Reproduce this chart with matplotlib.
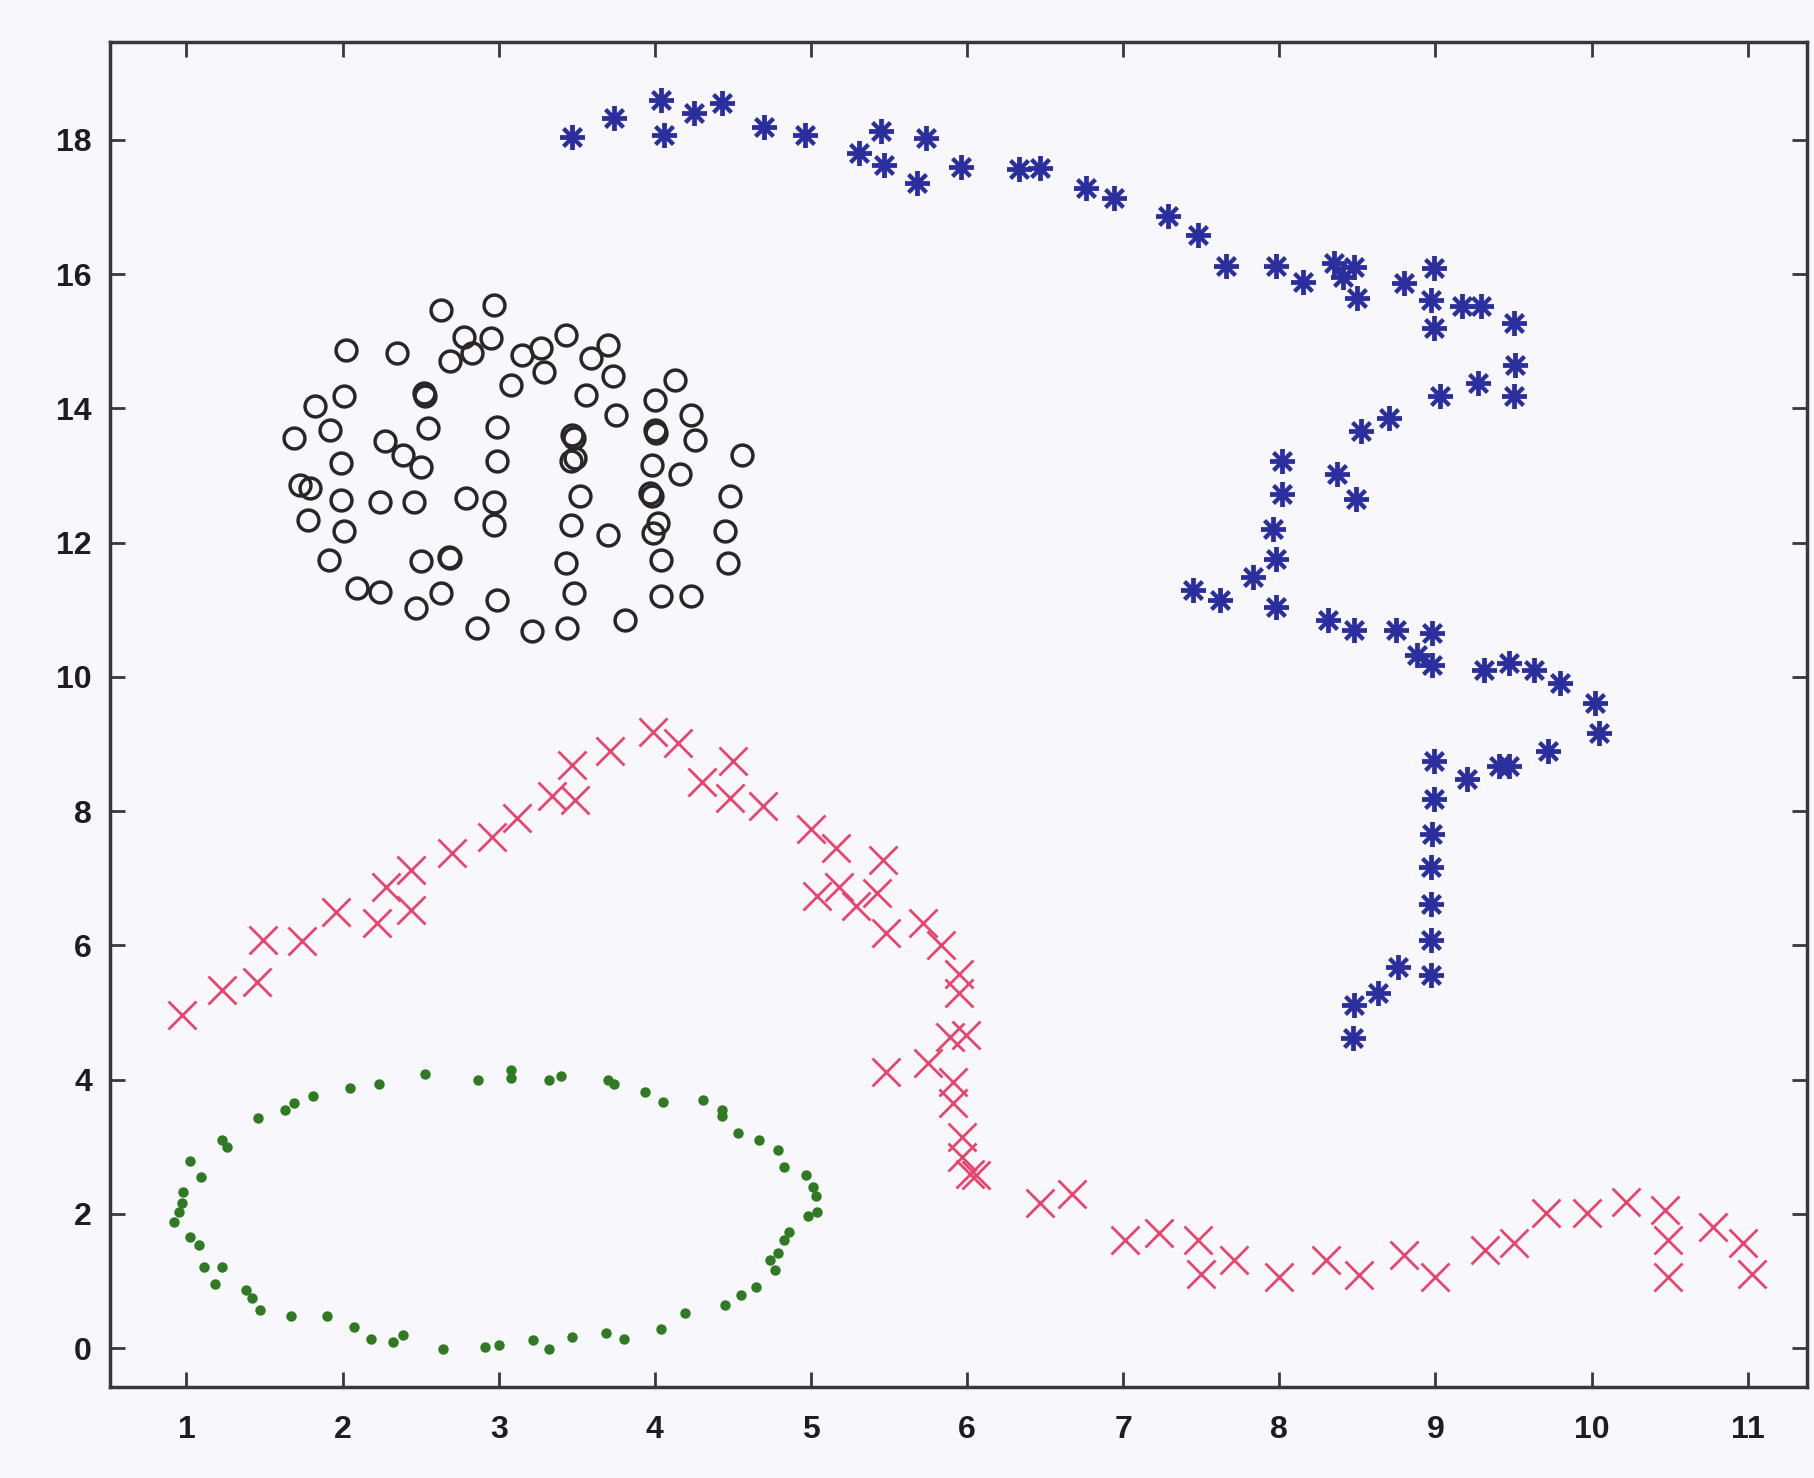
import matplotlib.pyplot as plt

# black circles (upper left blob)
circ_x = [2.63, 2.97, 2.02, 2.35, 2.78, 2.69, 2.83, 2.95, 3.15, 3.27, 3.43, 3.29, 3.08, 3.59,
          3.70, 3.73, 3.56, 4.13, 4.00, 3.75, 4.23, 2.01, 1.82, 2.52, 2.53, 1.92, 1.69, 2.55,
          2.99, 2.27, 2.39, 2.50, 1.99, 2.99, 3.47, 3.48, 3.49, 3.46, 4.00, 4.01, 4.26, 3.98,
          4.16, 4.56, 1.73, 1.79, 1.99, 2.24, 2.46, 2.79, 2.97, 1.78, 2.97, 3.52, 3.98, 3.97,
          4.48, 2.01, 3.46, 3.70, 4.02, 3.99, 4.45, 1.91, 2.50, 2.69, 2.68, 4.04, 3.43, 4.47,
          2.09, 2.24, 2.47, 2.63, 2.99, 3.48, 4.04, 4.23, 2.86, 3.21, 3.44, 3.81]
circ_y = [15.47, 15.54, 14.87, 14.82, 15.07, 14.70, 14.82, 15.05, 14.80, 14.90, 15.10, 14.55, 14.35, 14.75,
          14.95, 14.48, 14.20, 14.43, 14.13, 13.90, 13.90, 14.18, 14.03, 14.23, 14.18, 13.68, 13.56, 13.71,
          13.73, 13.51, 13.31, 13.13, 13.18, 13.21, 13.61, 13.56, 13.26, 13.21, 13.68, 13.63, 13.53, 13.16,
          13.03, 13.31, 12.86, 12.81, 12.64, 12.61, 12.61, 12.66, 12.61, 12.34, 12.27, 12.69, 12.69, 12.74,
          12.69, 12.17, 12.27, 12.12, 12.29, 12.14, 12.17, 11.74, 11.72, 11.77, 11.79, 11.74, 11.69, 11.69,
          11.32, 11.27, 11.02, 11.25, 11.15, 11.25, 11.20, 11.20, 10.73, 10.68, 10.73, 10.85]

# green dots (ring at the bottom left)
dot_x = [1.02, 1.09, 1.23, 1.26, 1.46, 1.63, 1.69, 1.81, 2.05, 2.23, 2.53, 2.87, 3.08, 3.08,
         3.32, 3.40, 3.70, 3.74, 3.94, 4.05, 4.31, 4.43, 4.43, 4.53, 4.67, 4.79, 4.83, 4.97,
         5.01, 5.03, 5.04, 4.98, 4.86, 4.83, 4.79, 4.74, 4.77, 4.65, 4.55, 4.45, 4.19, 4.04,
         3.80, 3.69, 3.47, 3.32, 3.22, 3.00, 2.91, 2.64, 2.39, 2.32, 2.18, 2.07, 1.90, 1.67,
         1.47, 1.42, 1.38, 1.18, 1.11, 1.23, 1.08, 1.02, 0.92, 0.95, 0.97, 0.98]
dot_y = [2.78, 2.55, 3.10, 3.00, 3.42, 3.55, 3.65, 3.75, 3.87, 3.94, 4.09, 3.99, 4.14, 4.02,
         4.00, 4.05, 3.99, 3.94, 3.82, 3.67, 3.70, 3.55, 3.45, 3.20, 3.10, 2.95, 2.70, 2.58,
         2.40, 2.26, 2.03, 1.96, 1.73, 1.61, 1.41, 1.31, 1.16, 0.91, 0.79, 0.64, 0.52, 0.29,
         0.14, 0.22, 0.17, -0.01, 0.12, 0.04, 0.02, -0.01, 0.19, 0.09, 0.14, 0.32, 0.47, 0.47,
         0.57, 0.74, 0.86, 0.96, 1.21, 1.21, 1.53, 1.66, 1.88, 2.03, 2.16, 2.33]

# red crosses (long curve)
cross_x = [0.97, 1.23, 1.45, 1.49, 1.74, 1.96, 2.22, 2.28, 2.44, 2.44, 2.70, 2.96, 3.12, 3.34,
           3.47, 3.49, 3.71, 3.99, 4.15, 4.30, 4.50, 4.48, 4.69, 5.00, 5.16, 5.04, 5.18, 5.29,
           5.46, 5.42, 5.48, 5.72, 5.83, 5.95, 5.95, 5.48, 5.75, 5.89, 5.99, 5.91, 5.91, 5.97,
           5.97, 6.02, 6.06, 6.47, 6.67, 7.01, 7.23, 7.48, 7.50, 7.71, 8.00, 8.30, 8.51, 8.80,
           9.00, 9.32, 9.50, 9.71, 9.97, 10.22, 10.47, 10.49, 10.49, 10.78, 10.97, 11.03]
cross_y = [4.96, 5.34, 5.46, 6.08, 6.06, 6.50, 6.33, 6.87, 7.12, 6.53, 7.37, 7.62, 7.89, 8.22,
           8.69, 8.17, 8.89, 9.18, 9.01, 8.44, 8.74, 8.19, 8.07, 7.74, 7.45, 6.73, 6.87, 6.58,
           7.27, 6.78, 6.18, 6.33, 6.01, 5.58, 5.29, 4.12, 4.24, 4.64, 4.66, 3.97, 3.65, 3.15,
           2.85, 2.60, 2.58, 2.16, 2.30, 1.61, 1.71, 1.61, 1.11, 1.31, 1.06, 1.31, 1.09, 1.39,
           1.06, 1.46, 1.56, 2.01, 2.01, 2.18, 2.06, 1.61, 1.06, 1.81, 1.56, 1.11]

# blue stars (upper right curve)
star_x = [3.47, 3.74, 4.04, 4.06, 4.25, 4.43, 4.70, 4.96, 5.45, 5.31, 5.47, 5.74, 5.68, 5.96,
          6.33, 6.47, 6.76, 6.94, 7.29, 7.48, 7.66, 7.98, 8.15, 8.35, 8.41, 8.48, 8.50, 8.80,
          8.99, 8.97, 9.17, 9.29, 9.50, 8.99, 9.51, 9.50, 9.27, 9.03, 8.70, 8.52, 8.02, 8.02,
          8.37, 8.49, 7.96, 7.98, 7.83, 7.45, 7.62, 7.98, 8.31, 8.48, 8.75, 8.98, 8.88, 8.98,
          9.31, 9.47, 9.63, 9.80, 10.02, 10.05, 9.72, 9.47, 9.41, 9.20, 8.99, 8.99, 8.98, 8.97,
          8.97, 8.97, 8.97, 8.76, 8.63, 8.48, 8.47]
star_y = [18.05, 18.33, 18.60, 18.08, 18.40, 18.55, 18.20, 18.08, 18.13, 17.80, 17.63, 18.03, 17.36, 17.60,
          17.56, 17.58, 17.28, 17.13, 16.86, 16.59, 16.12, 16.12, 15.89, 16.17, 15.96, 16.10, 15.64, 15.87,
          16.09, 15.62, 15.52, 15.52, 15.27, 15.20, 14.64, 14.19, 14.38, 14.19, 13.85, 13.66, 13.21, 12.73,
          13.03, 12.65, 12.20, 11.75, 11.49, 11.30, 11.15, 11.04, 10.85, 10.70, 10.70, 10.66, 10.32, 10.17,
          10.10, 10.21, 10.10, 9.91, 9.61, 9.16, 8.90, 8.67, 8.67, 8.48, 8.75, 8.18, 7.66, 7.17,
          6.61, 6.08, 5.56, 5.67, 5.29, 5.11, 4.62]

xticks = list(range(1, 12))
yticks = list(range(0, 19, 2))

bg = '#f8f8fc'
fig = plt.figure(figsize=(18.15, 14.78), dpi=100, facecolor=bg)
ax = fig.add_axes([0.0606, 0.0616, 0.9350, 0.9100], facecolor=bg)

ax.plot(circ_x, circ_y, linestyle='none', marker='o', markersize=15, markerfacecolor='none',
        markeredgecolor='#2a2628', markeredgewidth=2.5)
ax.plot(dot_x, dot_y, linestyle='none', marker='o', markersize=7.5,
        color='#2f7a22', markeredgewidth=0)
ax.plot(cross_x, cross_y, linestyle='none', marker='x', markersize=20,
        color='#e8456e', markeredgewidth=2)
ax.plot(star_x, star_y, linestyle='none', marker=(8, 2, 0), markersize=18,
        color='#2b2f9e', markeredgewidth=2.8)

ax.set_xlim(0.51, 11.38)
ax.set_ylim(-0.58, 19.46)
ax.set_xticks(xticks)
ax.set_yticks(yticks)

for s in ax.spines.values():
    s.set_linewidth(2.5)
    s.set_color('#3a3640')

ax.tick_params(axis='both', direction='in', length=11, width=2, color='#3a3640',
               top=True, right=True, labelsize=23, labelcolor='#1e1c22')
ax.tick_params(axis='x', pad=20)
ax.tick_params(axis='y', pad=13)
for lab in ax.get_xticklabels() + ax.get_yticklabels():
    lab.set_fontweight('bold')
    lab.set_fontfamily('Liberation Sans')

plt.savefig('out.png', dpi=100, facecolor=bg)
